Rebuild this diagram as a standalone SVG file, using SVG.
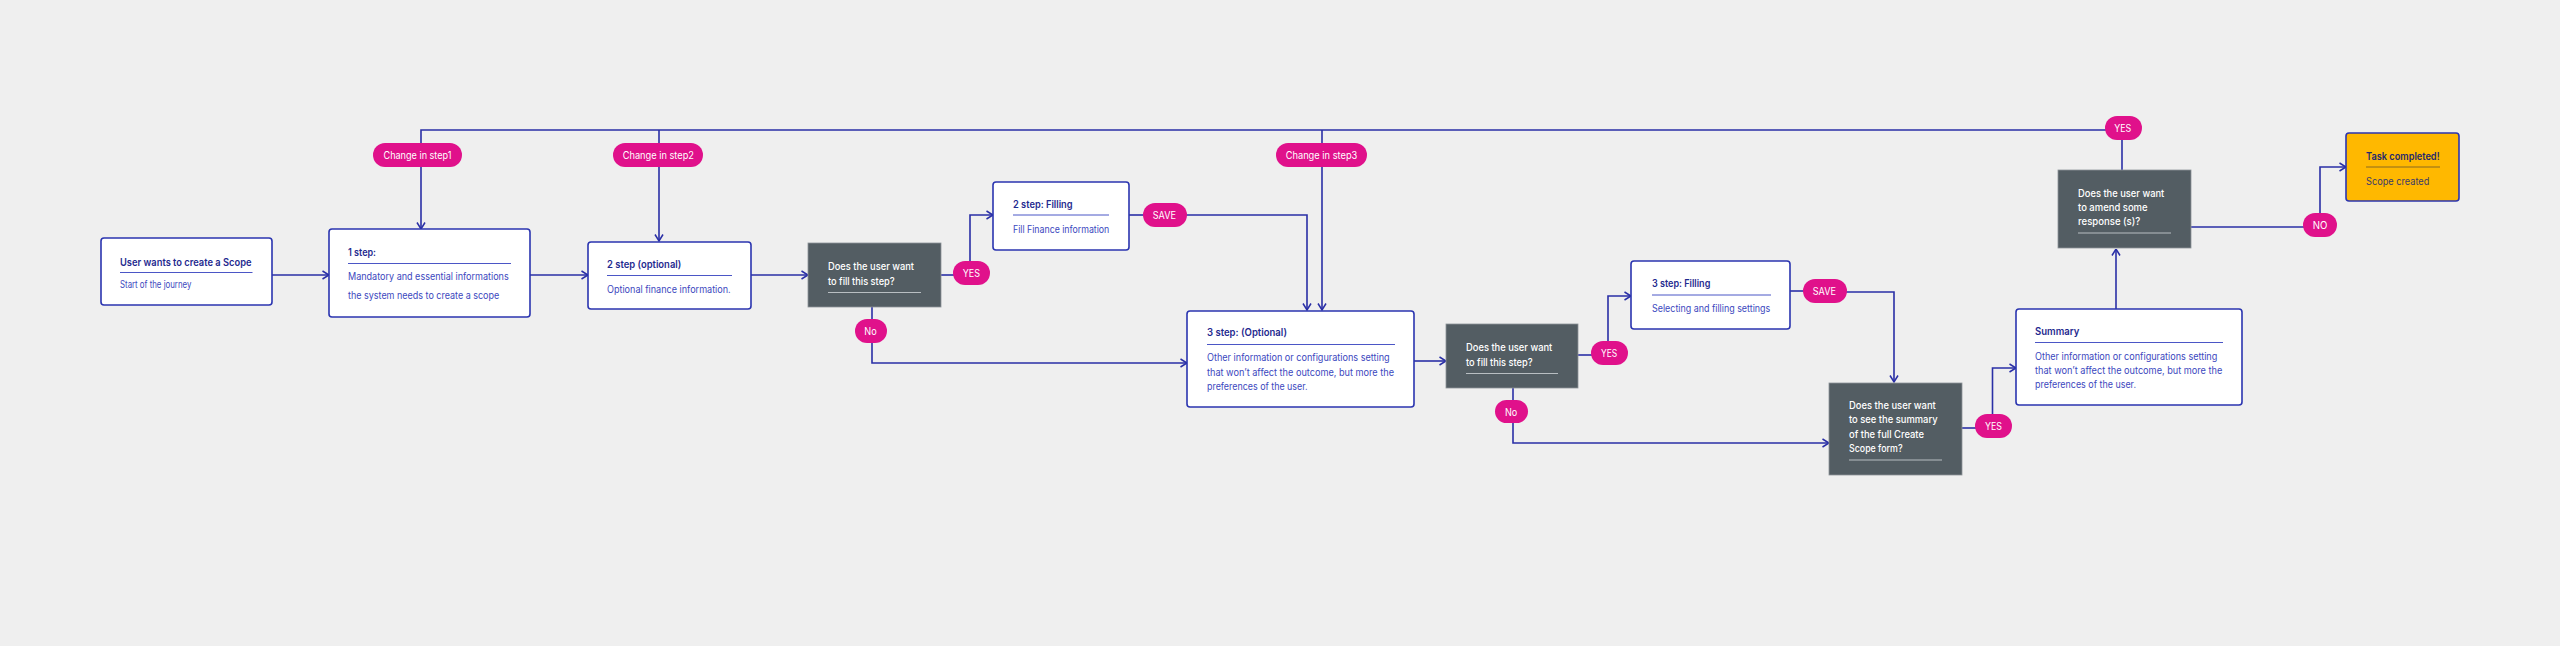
<svg xmlns="http://www.w3.org/2000/svg" width="2560" height="646" viewBox="0 0 2560 646">
<defs>
<marker id="arr" viewBox="0 0 8 10" refX="7.5" refY="5" markerWidth="8" markerHeight="10" markerUnits="userSpaceOnUse" orient="auto">
<path d="M1,1 L7.5,5 L1,9" fill="none" stroke="#2A2FA6" stroke-width="1.5"/>
</marker>
<style>
.bg{fill:#EFEFEF}
.c{fill:none;stroke:#2A2FA6;stroke-width:1.6}
.ca{fill:none;stroke:#2A2FA6;stroke-width:1.6;marker-end:url(#arr)}
.box{fill:#FFFFFF;stroke:#2B35B0;stroke-width:1.6}
.done{fill:#FFB800;stroke:#2B35B0;stroke-width:1.6}
.dec{fill:#535D63;stroke:#8E959A;stroke-width:0.8}
.pill{fill:#E0118B}
text{font-family:Inter,"Liberation Sans",sans-serif}
.t{font-size:10.2px;font-weight:600;fill:#1F2A8F}
.b{font-size:9.8px;fill:#3B47BE}
.dt{font-size:10.2px;font-weight:500;fill:#FFFFFF}
.pt{font-size:10.2px;fill:#FFFFFF}
.u{stroke:#4B56C6;stroke-width:1}
.ud{stroke:#B8BEC2;stroke-width:1}
.uy{stroke:#8A6A20;stroke-width:1}
.tk{fill:#24286E}
.bk{fill:#3A3A6A}
</style>
</defs>
<rect class="bg" x="0" y="0" width="2560" height="646"/>

<g id="connectors">
<path class="ca" d="M272,275 H329"/>
<path class="ca" d="M530,275 H588"/>
<path class="ca" d="M751,275 H808"/>
<path class="c" d="M941,275 H955"/>
<path class="ca" d="M970,262 V215 H993"/>
<path class="c" d="M872,307 V320"/>
<path class="ca" d="M872,342 V363 H1187"/>
<path class="c" d="M1129,215 H1145"/>
<path class="ca" d="M1185,215 H1307 V310"/>
<path class="c" d="M2106,130 H421 V144"/>
<path class="ca" d="M421,166 V229"/>
<path class="c" d="M659,130 V144"/>
<path class="ca" d="M659,166 V241"/>
<path class="c" d="M1322,130 V144"/>
<path class="ca" d="M1322,166 V310"/>
<path class="ca" d="M1414,361 H1446"/>
<path class="c" d="M1578,355 H1593"/>
<path class="ca" d="M1608,342 V296 H1631"/>
<path class="c" d="M1513,388 V401"/>
<path class="ca" d="M1513,422 V443 H1829"/>
<path class="c" d="M1790,291 H1805"/>
<path class="ca" d="M1845,292 H1894 V382"/>
<path class="c" d="M1962,428 H1977"/>
<path class="ca" d="M1992.5,415 V368 H2016"/>
<path class="ca" d="M2116,309 V249"/>
<path class="c" d="M2122,170 V138"/>
<path class="c" d="M2191,227 H2305"/>
<path class="ca" d="M2320,214 V167 H2346"/>
</g>

<g id="start">
<rect class="box" x="101" y="238" width="171" height="67" rx="3"/>
<text class="t" x="120" y="266" textLength="131.5" lengthAdjust="spacingAndGlyphs">User wants to create a Scope</text>
<line class="u" x1="120" y1="272.5" x2="252.5" y2="272.5"/>
<text class="b" x="120" y="288" textLength="71.4" lengthAdjust="spacingAndGlyphs">Start of the journey</text>
</g>

<g id="step1">
<rect class="box" x="329" y="229" width="201" height="88" rx="3"/>
<text class="t" x="348" y="256" textLength="28" lengthAdjust="spacingAndGlyphs">1 step:</text>
<line class="u" x1="348" y1="263.5" x2="511" y2="263.5"/>
<text class="b" x="348" y="280" textLength="160.7" lengthAdjust="spacingAndGlyphs">Mandatory and essential informations</text>
<text class="b" x="348" y="299" textLength="151.2" lengthAdjust="spacingAndGlyphs">the system needs to create a scope</text>
</g>

<g id="step2">
<rect class="box" x="588" y="242" width="163" height="67" rx="3"/>
<text class="t" x="607" y="268" textLength="74.4" lengthAdjust="spacingAndGlyphs">2 step (optional)</text>
<line class="u" x1="607" y1="275.5" x2="732" y2="275.5"/>
<text class="b" x="607" y="292.5" textLength="123.7" lengthAdjust="spacingAndGlyphs">Optional finance information.</text>
</g>

<g id="decision1">
<rect class="dec" x="808" y="243" width="133" height="64"/>
<text class="dt" x="828" y="270" textLength="86" lengthAdjust="spacingAndGlyphs">Does the user want</text>
<text class="dt" x="828" y="284.5" textLength="66.7" lengthAdjust="spacingAndGlyphs">to fill this step?</text>
<line class="ud" x1="828" y1="292.5" x2="921" y2="292.5"/>
</g>

<g id="step2fill">
<rect class="box" x="993" y="182" width="136" height="68" rx="3"/>
<text class="t" x="1013" y="208" textLength="59.6" lengthAdjust="spacingAndGlyphs">2 step:  Filling</text>
<line class="u" x1="1013" y1="215" x2="1109" y2="215"/>
<text class="b" x="1013" y="233" textLength="96.3" lengthAdjust="spacingAndGlyphs">Fill Finance information</text>
</g>

<g id="step3">
<rect class="box" x="1187" y="311" width="227" height="96" rx="3"/>
<text class="t" x="1207" y="336" textLength="80" lengthAdjust="spacingAndGlyphs">3 step: (Optional)</text>
<line class="u" x1="1207" y1="344.5" x2="1395" y2="344.5"/>
<text class="b" x="1207" y="361" textLength="182.6" lengthAdjust="spacingAndGlyphs">Other information or configurations setting</text>
<text class="b" x="1207" y="375.5" textLength="187" lengthAdjust="spacingAndGlyphs">that won’t affect the outcome, but more the</text>
<text class="b" x="1207" y="390" textLength="100.6" lengthAdjust="spacingAndGlyphs">preferences of the user.</text>
</g>

<g id="decision2">
<rect class="dec" x="1446" y="324" width="132" height="64"/>
<text class="dt" x="1466" y="351" textLength="86.3" lengthAdjust="spacingAndGlyphs">Does the user want</text>
<text class="dt" x="1466" y="365.5" textLength="66.6" lengthAdjust="spacingAndGlyphs">to fill this step?</text>
<line class="ud" x1="1466" y1="373.5" x2="1558" y2="373.5"/>
</g>

<g id="step3fill">
<rect class="box" x="1631" y="261" width="159" height="68" rx="3"/>
<text class="t" x="1652" y="287" textLength="58.3" lengthAdjust="spacingAndGlyphs">3 step: Filling</text>
<line class="u" x1="1652" y1="295" x2="1771" y2="295"/>
<text class="b" x="1652" y="312" textLength="118.3" lengthAdjust="spacingAndGlyphs">Selecting and filling settings</text>
</g>

<g id="decision3">
<rect class="dec" x="1829" y="383" width="133" height="92"/>
<text class="dt" x="1849" y="408.5" textLength="86.8" lengthAdjust="spacingAndGlyphs">Does the user want</text>
<text class="dt" x="1849" y="423" textLength="88.6" lengthAdjust="spacingAndGlyphs">to see the summary</text>
<text class="dt" x="1849" y="437.5" textLength="75" lengthAdjust="spacingAndGlyphs">of the full Create</text>
<text class="dt" x="1849" y="452" textLength="53.6" lengthAdjust="spacingAndGlyphs">Scope form?</text>
<line class="ud" x1="1849" y1="460" x2="1942" y2="460"/>
</g>

<g id="summary">
<rect class="box" x="2016" y="309" width="226" height="96" rx="3"/>
<text class="t" x="2035" y="334.5" textLength="44.3" lengthAdjust="spacingAndGlyphs">Summary</text>
<line class="u" x1="2035" y1="342.5" x2="2223" y2="342.5"/>
<text class="b" x="2035" y="359.5" textLength="182.3" lengthAdjust="spacingAndGlyphs">Other information or configurations setting</text>
<text class="b" x="2035" y="373.5" textLength="187.3" lengthAdjust="spacingAndGlyphs">that won’t affect the outcome, but more the</text>
<text class="b" x="2035" y="388" textLength="101" lengthAdjust="spacingAndGlyphs">preferences of the user.</text>
</g>

<g id="decision4">
<rect class="dec" x="2058" y="170" width="133" height="78"/>
<text class="dt" x="2078" y="196.5" textLength="86.3" lengthAdjust="spacingAndGlyphs">Does the user want</text>
<text class="dt" x="2078" y="211" textLength="69.6" lengthAdjust="spacingAndGlyphs">to amend some</text>
<text class="dt" x="2078" y="225" textLength="62.3" lengthAdjust="spacingAndGlyphs">response (s)?</text>
<line class="ud" x1="2078" y1="233" x2="2171" y2="233"/>
</g>

<g id="completed">
<rect class="done" x="2346" y="133" width="113" height="68" rx="3"/>
<text class="t tk" x="2366" y="159.5" textLength="73.6" lengthAdjust="spacingAndGlyphs">Task completed!</text>
<line class="uy" x1="2366" y1="167" x2="2440" y2="167"/>
<text class="b bk" x="2366" y="184.5" textLength="63.3" lengthAdjust="spacingAndGlyphs">Scope created</text>
</g>

<g id="pill-change1"><rect class="pill" x="373" y="143" width="89" height="24" rx="12"/><text class="pt" x="383.5" y="159" textLength="68" lengthAdjust="spacingAndGlyphs">Change in  step1</text></g>
<g id="pill-change2"><rect class="pill" x="613" y="143" width="90" height="24" rx="12"/><text class="pt" x="622.7" y="159" textLength="71.3" lengthAdjust="spacingAndGlyphs">Change in  step2</text></g>
<g id="pill-change3"><rect class="pill" x="1276" y="143" width="91" height="24" rx="12"/><text class="pt" x="1285.7" y="159" textLength="71.6" lengthAdjust="spacingAndGlyphs">Change in  step3</text></g>
<g id="pill-yes1"><rect class="pill" x="953" y="261" width="37" height="24" rx="12"/><text class="pt" x="962.7" y="277" textLength="17.3" lengthAdjust="spacingAndGlyphs">YES</text></g>
<g id="pill-no1"><rect class="pill" x="855" y="319" width="32" height="24" rx="12"/><text class="pt" x="864.3" y="335" textLength="12.4" lengthAdjust="spacingAndGlyphs">No</text></g>
<g id="pill-save1"><rect class="pill" x="1143" y="203" width="44" height="24" rx="12"/><text class="pt" x="1152.7" y="219" textLength="23.3" lengthAdjust="spacingAndGlyphs">SAVE</text></g>
<g id="pill-yes2"><rect class="pill" x="1591" y="341" width="37" height="24" rx="12"/><text class="pt" x="1601" y="357" textLength="16.3" lengthAdjust="spacingAndGlyphs">YES</text></g>
<g id="pill-no2"><rect class="pill" x="1495" y="400" width="33" height="23" rx="11.5"/><text class="pt" x="1505" y="415.5" textLength="12.3" lengthAdjust="spacingAndGlyphs">No</text></g>
<g id="pill-save2"><rect class="pill" x="1803" y="279" width="44" height="24" rx="12"/><text class="pt" x="1812.7" y="295" textLength="23.3" lengthAdjust="spacingAndGlyphs">SAVE</text></g>
<g id="pill-yes3"><rect class="pill" x="1975" y="414" width="37" height="24" rx="12"/><text class="pt" x="1985" y="430" textLength="17" lengthAdjust="spacingAndGlyphs">YES</text></g>
<g id="pill-yes4"><rect class="pill" x="2105" y="116" width="37" height="24" rx="12"/><text class="pt" x="2114.3" y="132" textLength="17" lengthAdjust="spacingAndGlyphs">YES</text></g>
<g id="pill-no4"><rect class="pill" x="2303" y="213" width="34" height="24" rx="12"/><text class="pt" x="2312.7" y="229" textLength="14.6" lengthAdjust="spacingAndGlyphs">NO</text></g>
</svg>
